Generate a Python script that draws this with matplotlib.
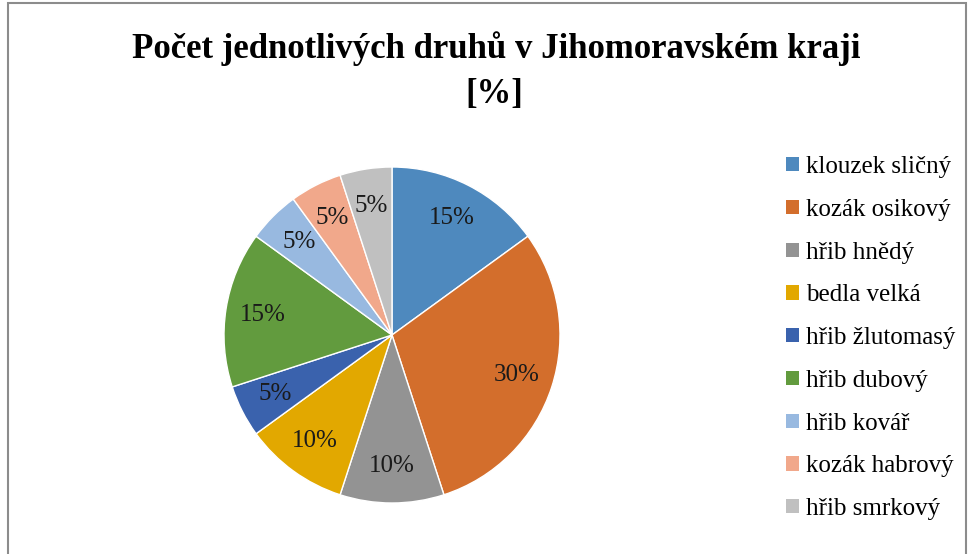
import matplotlib
matplotlib.use("Agg")
import matplotlib.pyplot as plt
from matplotlib.patches import Patch, Rectangle

plt.rcParams['font.family'] = ['Liberation Serif', 'DejaVu Serif']

# data
druhy = ['klouzek sličný', 'kozák osikový', 'hřib hnědý', 'bedla velká',
         'hřib žlutomasý', 'hřib dubový', 'hřib kovář', 'kozák habrový',
         'hřib smrkový']
podil = [15, 30, 10, 10, 5, 15, 5, 5, 5]
barvy = ['#4E89BE', '#D36E2C', '#939393', '#E2A800', '#3A62AD',
         '#629B3E', '#98B9E0', '#F1A88B', '#C0C0C0']

W, H = 971, 554
fig = plt.figure(figsize=(W / 100, H / 100), dpi=100)

# gray frame like the Excel chart area
fig.patches.append(Rectangle((8 / W, -0.1), (966 - 8) / W, 1.1 - 2.5 / H,
                             transform=fig.transFigure, fill=False,
                             edgecolor='#8C8C8C', linewidth=1.5))

cx, cy, r = 392, 335, 168
ax = fig.add_axes([(cx - r) / W, (H - cy - r) / H, 2 * r / W, 2 * r / H])
wedges, texts, autotexts = ax.pie(
    podil, colors=barvy, startangle=90, counterclock=False,
    autopct=lambda p: f'{p:.0f}%', pctdistance=0.78,
    wedgeprops=dict(edgecolor='white', linewidth=1),
    textprops=dict(fontsize=18, color='#1a1a1a'))
ax.set_xlim(-1, 1)
ax.set_ylim(-1, 1)
ax.set_aspect('equal')

fig.text(496 / W, 1 - 49 / H, 'Počet jednotlivých druhů v Jihomoravském kraji',
         ha='center', va='center', fontsize=25, fontweight='bold')
fig.text(494 / W, 1 - 94 / H, '[%]', ha='center', va='center',
         fontsize=25, fontweight='bold')

handles = [Patch(facecolor=c, edgecolor='none') for c in barvy]
fig.legend(handles, druhy, loc='upper left',
           bbox_to_anchor=(786 / W, 1 - 156 / H), frameon=False,
           fontsize=18, handlelength=0.5, handleheight=0.5,
           handletextpad=0.3, labelspacing=0.83, borderaxespad=0,
           borderpad=0)

fig.savefig('out.png', dpi=100)
